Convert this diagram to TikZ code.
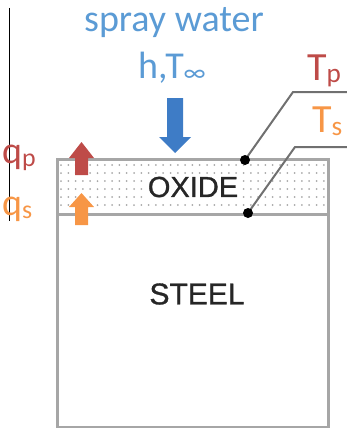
\documentclass[tikz,border=0pt]{standalone}
\usepackage{fontspec}
\setmainfont{Carlito}
\newfontfamily\arialfont[FakeBold=1]{Liberation Sans}
\definecolor{txtblue}{HTML}{5B9BD5}
\definecolor{arrblue}{HTML}{3E7CC6}
\definecolor{qred}{HTML}{BE4B48}
\definecolor{qorange}{HTML}{F79646}
\definecolor{boxgray}{HTML}{A6A6A6}
\definecolor{ptrgray}{HTML}{707070}
\definecolor{dotgray}{HTML}{A8A8A8}
\definecolor{layertext}{HTML}{262626}
\newcommand\lowsub[1]{\raisebox{-3pt}{\scalebox{0.68}{#1}}}
\tikzset{
  bigtxt/.style={inner sep=0pt, font=\fontsize{38}{40}\selectfont},
  symtxt/.style={inner sep=0pt, font=\fontsize{40}{42}\selectfont},
  layerbox/.style={draw=boxgray, line width=3pt, inner sep=0pt, outer sep=0pt},
  layerlabel/.style={text=layertext, inner sep=1pt, font=\arialfont\fontsize{29}{30}\selectfont},
  pointer/.style={draw=ptrgray, line width=2pt},
  tdot/.style={fill=black},
}
\begin{document}
\begin{tikzpicture}[x=1pt,y=-1pt]
\useasboundingbox (0,0) rectangle (347,428);
% left rule
\coordinate (ruletop) at (9.5,8);
\coordinate (rulebot) at (9.5,221);
\draw[line width=1.5pt, black] (ruletop) -- (rulebot);
% dotted oxide fill
\foreach \r in {0,...,5}
  \foreach \c in {0,...,36}
    \fill[dotgray] (61+\c*7.3, 165+\r*8) circle (1);
% layers
\node[layerbox, minimum width=271pt, minimum height=55pt, anchor=north west] (oxide) at (57,159) {};
\node[layerbox, minimum width=271pt, minimum height=213pt, anchor=north west] (steel) at (57,214) {};
\node[layerlabel, fill=white] (oxlab) at (193,187) {OXIDE};
\node[layerlabel, font=\arialfont\fontsize{30}{31}\selectfont] (stlab) at (197,294) {STEEL};
% spray labels
\node[bigtxt, text=txtblue, anchor=base] (spray) at (174,32) {spray water};
\node[bigtxt, text=txtblue, anchor=base] (htinf) at (172,78) {h,T\lowsub{∞}};
% spray arrow
\fill[arrblue] (167,98) -- (183,98) -- (183,137) -- (191,137) -- (175,153) -- (159,137) -- (167,137) -- cycle;
% heat flux arrows
\fill[qred] (75,175) -- (88,175) -- (88,158) -- (94,158) -- (81.5,142) -- (69,158) -- (75,158) -- cycle;
\fill[qorange] (75,225) -- (88,225) -- (88,207) -- (94,207) -- (81.5,193) -- (69,207) -- (75,207) -- cycle;
\node[bigtxt, text=qred, anchor=base west] (qp) at (2,163) {q\lowsub{p}};
\node[bigtxt, text=qorange, anchor=base west] (qs) at (2,215) {q\lowsub{s}};
% temperature pointers
\node[symtxt, text=qred, anchor=base west] (tp) at (307,80) {T\lowsub{p}};
\node[symtxt, text=qorange, anchor=base west] (ts) at (312,132) {T\lowsub{s}};
\coordinate (tpdot) at (245,160);
\coordinate (tpbend) at (293,92);
\coordinate (tpend) at (347,92);
\coordinate (tsdot) at (248,213);
\coordinate (tsbend) at (295,147);
\coordinate (tsend) at (347,147);
\draw[pointer] (tpdot) -- (tpbend) -- (tpend);
\draw[pointer] (tsdot) -- (tsbend) -- (tsend);
\fill[tdot] (tpdot) circle (5);
\fill[tdot] (tsdot) circle (5);
\end{tikzpicture}
\end{document}
